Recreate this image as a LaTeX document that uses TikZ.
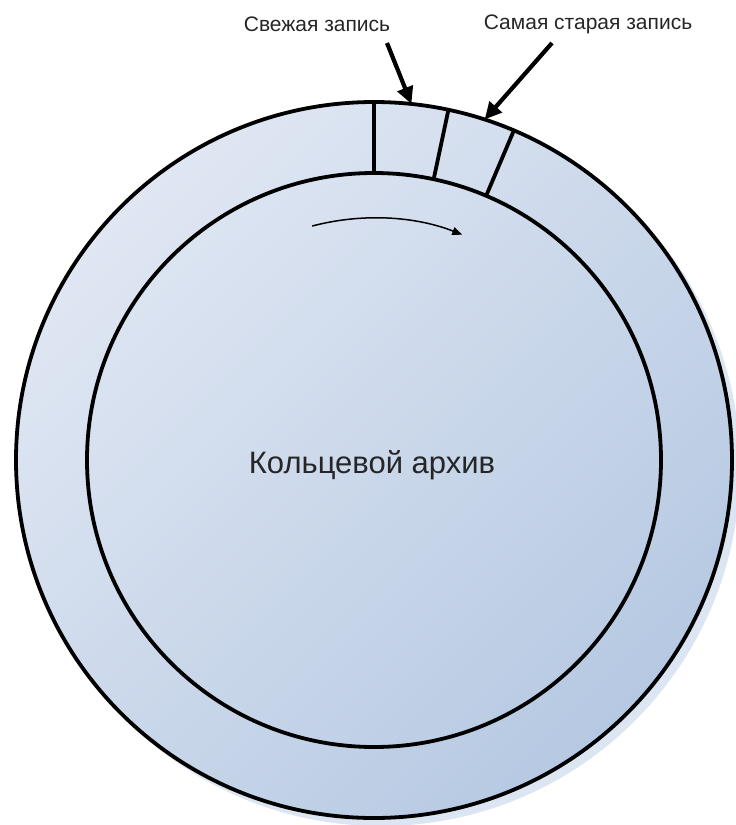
\documentclass[tikz,border=0pt]{standalone}
\usepackage{fontspec}
\setmainfont{Liberation Sans}
\usetikzlibrary{arrows.meta,calc}
\definecolor{ringlight}{HTML}{E0E7F3}
\definecolor{ringdark}{HTML}{B6C9E2}
\definecolor{shadowc}{HTML}{DCE5F2}
\tikzset{
  ring/.style={circle, draw=black, line width=3.8pt, outer sep=0pt, inner sep=0pt},
  divider/.style={line width=3.8pt},
  pointer/.style={line width=4.2pt, -{Triangle[length=17pt,width=16pt]}},
  lbl/.style={font=\fontsize{21}{24}\selectfont, text=black!85, inner sep=0pt},
  dirarrow/.style={line width=1.5pt, -{Triangle[length=10pt,width=8pt]}}
}
\begin{document}
\begin{tikzpicture}[x=1pt,y=-1pt]
\useasboundingbox (0,0) rectangle (736,825);
% shadow
\fill[shadowc] (381,467) circle (359);
% outer disc
\node[ring, minimum size=716pt, top color=ringlight, bottom color=ringdark, shading angle=45] (outer) at (374,460) {};
\node[ring, minimum size=574pt] (inner) at (374,460) {};
% dividers
\foreach \a in {90, 78.8, 67.7} {
  \draw[divider] (inner.\a) -- (outer.\a);
}
% labels
\node[lbl] (fresh) at (317,24) {Свежая запись};
\node[lbl] (oldest) at (588,24) {Самая старая запись};
\coordinate (freshstart) at (387,43);
\coordinate (oldstart) at (552,43);
\draw[pointer] (freshstart) -- (outer.84.3);
\draw[pointer] (oldstart) -- (outer.72.7);
% direction arrow
\coordinate (c) at (374,460);
\draw[dirarrow] ($(c)+(-104.8:242)$) arc[start angle=-104.8, end angle=-68.6, radius=242];
% title
\node[font=\fontsize{31}{36}\selectfont, text=black!85, inner sep=0pt] (title) at (372,465) {Кольцевой архив};
\end{tikzpicture}
\end{document}
